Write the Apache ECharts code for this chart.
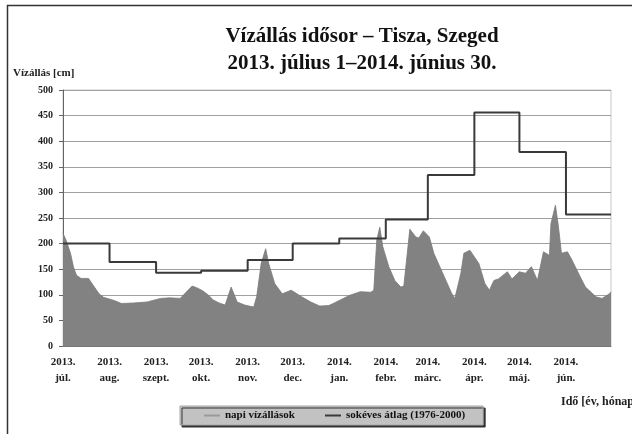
<!DOCTYPE html>
<html>
<head>
<meta charset="utf-8">
<script src="https://cdn.jsdelivr.net/npm/echarts@6/dist/echarts.min.js"></script>
<style>
  html, body { margin: 0; padding: 0; background: #fff; }
  #chart { width: 632px; height: 434px; }
</style>
</head>
<body>
<div id="chart"></div>
<script>
// napi vízállás: [nap a 2013.07.01-től, cm]
var napiVizallas = [
  [0,220],[2,207],[5,181],[7,154],[9,138],[12,132],[17,132],[20,119],[24,102],[27,95],
  [34,89],[39,83],[47,84],[56,86],[65,93],[71,94],[78,93],[81,102],[86,117],[89,114],
  [93,108],[97,99],[100,90],[104,84],[108,80],[112,115],[116,86],[121,80],[127,76],[129,96],
  [132,161],[135,190],[137,161],[141,122],[146,102],[152,109],[159,96],[165,86],[171,78],[177,79],
  [180,83],[184,89],[191,99],[198,106],[205,105],[207,109],[209,207],[211,232],[213,194],[217,155],
  [221,128],[225,115],[227,117],[230,200],[231,228],[235,213],[237,211],[240,225],[244,213],[247,181],
  [254,135],[259,102],[261,93],[265,142],[267,181],[271,187],[272,189],[277,161],[281,122],[284,109],
  [287,128],[290,131],[296,145],[299,131],[304,145],[308,142],[312,155],[316,128],[320,184],[324,177],
  [325,239],[328,275],[330,233],[332,181],[336,184],[339,168],[344,138],[348,115],[355,96],[359,93],
  [364,102],[365,106]
];

// sokéves havi átlag (1976-2000)
var honapKezdet = [0, 31, 62, 92, 123, 153, 184, 215, 243, 274, 304, 335, 365];
var sokevesAtlag = [200, 164, 143, 147, 168, 200, 210, 247, 334, 456, 379, 257, 257];

var honapCimkek = ['2013.\njúl.', '2013.\naug.', '2013.\nszept.', '2013.\nokt.', '2013.\nnov.', '2013.\ndec.',
  '2014.\njan.', '2014.\nfebr.', '2014.\nmárc.', '2014.\nápr.', '2014.\nmáj.', '2014.\njún.'];

var atlagAdat = honapKezdet.map(function(d, i) { return [d, sokevesAtlag[i]]; });

var font = '"Liberation Serif", "Times New Roman", serif';
var chart = echarts.init(document.getElementById('chart'));

chart.setOption({
  animation: false,
  backgroundColor: '#fff',
  title: [
    { text: 'Vízállás idősor – Tisza, Szeged\n2013. július 1–2014. június 30.',
      left: 357, top: 18, textAlign: 'center',
      textStyle: { fontFamily: font, fontWeight: 'bold', fontSize: 21, lineHeight: 27, color: '#111' } },
    { text: 'Vízállás [cm]', left: 8, top: 63,
      textStyle: { fontFamily: font, fontWeight: 'bold', fontSize: 11, color: '#222' } },
    { text: 'Idő [év, hónap]', left: 556, top: 391,
      textStyle: { fontFamily: font, fontWeight: 'bold', fontSize: 12, color: '#222' } }
  ],
  graphic: [
    { type: 'rect', left: 5, top: 3, shape: { width: 700, height: 500 }, silent: true,
      style: { fill: 'none', stroke: '#333', lineWidth: 1.5 } }
  ],
  grid: { left: 63, right: 21, top: 90, bottom: 88, show: true, borderColor: '#c8c8c8', borderWidth: 1 },
  legend: {
    left: 180, top: 406, width: 308,
    padding: [4, 18, 4, 24], itemGap: 30,
    itemWidth: 16, itemHeight: 2,
    backgroundColor: '#c2c2c2', borderColor: '#a8a8a8', borderWidth: 1,
    shadowColor: '#333', shadowOffsetX: 2, shadowOffsetY: 2, shadowBlur: 0,
    textStyle: { fontFamily: font, fontWeight: 'bold', fontSize: 11, color: '#111' },
    data: [{ name: 'napi vízállások', icon: 'rect' }, { name: 'sokéves átlag (1976-2000)', icon: 'rect' }]
  },
  xAxis: {
    type: 'value', min: 0, max: 365,
    axisLine: { lineStyle: { color: '#777' } },
    axisTick: { show: false },
    splitLine: { show: false },
    axisLabel: {
      customValues: honapKezdet.slice(0, 12),
      margin: 8, lineHeight: 16,
      fontFamily: font, fontWeight: 'bold', fontSize: 11, color: '#222',
      formatter: function(v) { var i = honapKezdet.indexOf(v); return i >= 0 && i < 12 ? honapCimkek[i] : ''; }
    }
  },
  yAxis: {
    type: 'value', min: 0, max: 500, interval: 50,
    axisLine: { show: true, lineStyle: { color: '#666' } },
    axisTick: { show: true, length: 4, lineStyle: { color: '#666' } },
    splitLine: { lineStyle: { color: '#a0a0a0', width: 1 } },
    axisLabel: { margin: 10, fontFamily: font, fontWeight: 'bold', fontSize: 10, color: '#222' }
  },
  series: [
    { name: 'napi vízállások', type: 'line', data: napiVizallas, symbol: 'none',
      itemStyle: { color: '#9a9a9a' },
      lineStyle: { color: '#7a7a7a', width: 0.8 },
      areaStyle: { color: '#828282', opacity: 1 } },
    { name: 'sokéves átlag (1976-2000)', type: 'line', data: atlagAdat, step: 'end', symbol: 'none',
      itemStyle: { color: '#3a3a3a' },
      lineStyle: { color: '#3a3a3a', width: 2 }, z: 3 }
  ]
});
</script>
</body>
</html>
